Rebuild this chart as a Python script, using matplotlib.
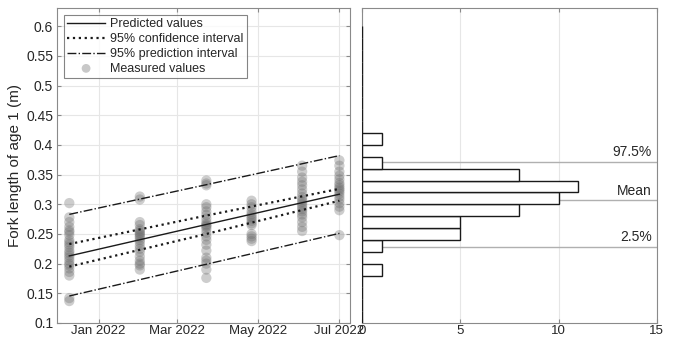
import matplotlib
matplotlib.use("Agg")
import matplotlib.pyplot as plt
import datetime as dt

plt.rcParams['font.family'] = ['Liberation Sans', 'DejaVu Sans']

# ---- data ----
sample_dates = ['2021-12-10', '2022-02-01', '2022-03-23', '2022-04-26', '2022-06-03', '2022-07-01']
measured = [
    [0.302, 0.278, 0.27, 0.262, 0.256, 0.253, 0.248, 0.24, 0.236, 0.232, 0.228, 0.222,
     0.218, 0.214, 0.21, 0.205, 0.2, 0.197, 0.192, 0.186, 0.18, 0.142, 0.137],
    [0.313, 0.308, 0.27, 0.265, 0.258, 0.255, 0.252, 0.25, 0.247, 0.244, 0.24, 0.236,
     0.23, 0.225, 0.22, 0.212, 0.205, 0.2, 0.197, 0.19],
    [0.34, 0.335, 0.332, 0.3, 0.295, 0.288, 0.282, 0.276, 0.27, 0.266, 0.264, 0.262,
     0.258, 0.252, 0.246, 0.24, 0.232, 0.222, 0.21, 0.205, 0.2, 0.19, 0.176],
    [0.306, 0.3, 0.295, 0.288, 0.283, 0.279, 0.276, 0.272, 0.268, 0.265, 0.25, 0.246,
     0.242, 0.238],
    [0.365, 0.355, 0.345, 0.338, 0.332, 0.325, 0.318, 0.312, 0.308, 0.304, 0.3, 0.296,
     0.292, 0.288, 0.283, 0.278, 0.27, 0.262, 0.255],
    [0.374, 0.365, 0.355, 0.348, 0.342, 0.336, 0.332, 0.328, 0.325, 0.322, 0.318, 0.313,
     0.308, 0.302, 0.296, 0.29, 0.248],
]

fit_dates = ['2021-12-10', '2022-03-23', '2022-07-01']
predicted = [0.213, 0.266, 0.317]
conf_upper = [0.233, 0.281, 0.326]
conf_lower = [0.195, 0.250, 0.306]
pred_upper = [0.283, 0.333, 0.382]
pred_lower = [0.1455, 0.199, 0.251]

hist_edges = [round(0.10 + 0.02 * i, 2) for i in range(26)]
hist_counts = [0, 0, 0, 0, 1, 0, 1, 5, 5, 8, 10, 11, 8, 1, 0, 1,
               0, 0, 0, 0, 0, 0, 0, 0, 0]
quantile_names = ['97.5%', 'Mean', '2.5%']
quantile_values = [0.3716, 0.307, 0.2285]

xtick_dates = ['2022-01-01', '2022-03-01', '2022-05-01', '2022-07-01']
xtick_labels = ['Jan 2022', 'Mar 2022', 'May 2022', 'Jul 2022']
hist_xticks = [0, 5, 10, 15]

# ---- figure ----
fig = plt.figure(figsize=(6.76, 3.39), dpi=100)
ax1 = fig.add_axes([0.0848, 0.0472, 0.433, 0.928])
ax2 = fig.add_axes([0.536, 0.0472, 0.4355, 0.928])

spine_col = '#8a8a8a'
grid_col = '#e6e6e6'
txt_col = '#262626'

to_d = lambda s: dt.datetime.strptime(s, '%Y-%m-%d')

# scatter
for i, (d, vals) in enumerate(zip(sample_dates, measured)):
    ax1.scatter([to_d(d)] * len(vals), vals, s=55, color='#6a6a6a', alpha=0.33,
                edgecolors='none', zorder=2)

fd = [to_d(d) for d in fit_dates]
l1, = ax1.plot(fd, predicted, '-', color='#1a1a1a', lw=1.0, zorder=3)
l2, = ax1.plot(fd, conf_upper, ':', color='#1a1a1a', lw=1.6, zorder=3)
ax1.plot(fd, conf_lower, ':', color='#1a1a1a', lw=1.6, zorder=3)
l3, = ax1.plot(fd, pred_upper, '-.', color='#1a1a1a', lw=1.0, zorder=3)
ax1.plot(fd, pred_lower, '-.', color='#1a1a1a', lw=1.0, zorder=3)
sc_proxy = ax1.scatter([], [], s=40, color='#c8c8c8', edgecolors='none')

ax1.set_xlim(to_d('2021-12-01'), to_d('2022-07-09'))
ax1.set_ylim(0.1, 0.63)
ax1.set_yticks([0.1, 0.15, 0.2, 0.25, 0.3, 0.35, 0.4, 0.45, 0.5, 0.55, 0.6])
ax1.set_yticklabels(['0.1', '0.15', '0.2', '0.25', '0.3', '0.35', '0.4', '0.45', '0.5', '0.55', '0.6'])
ax1.set_xticks([to_d(d) for d in xtick_dates])
ax1.set_xticklabels(xtick_labels)
ax1.set_ylabel('Fork length of age 1 (m)', fontsize=11, color=txt_col, labelpad=3)
ax1.grid(True, color=grid_col, lw=0.8)
ax1.set_axisbelow(True)

leg = ax1.legend([l1, l2, l3, sc_proxy],
                 ['Predicted values', '95% confidence interval', '95% prediction interval', 'Measured values'],
                 loc='upper left', frameon=True, fancybox=False,
                 edgecolor='#666666', handlelength=3.0, handletextpad=0.4,
                 borderpad=0.3, labelspacing=0.22, borderaxespad=0.5,
                 prop={'family': ['Liberation Sans'], 'size': 9})
leg.get_frame().set_linewidth(0.8)
for t in leg.get_texts():
    t.set_color(txt_col)

# histogram
centers = [(hist_edges[i] + hist_edges[i + 1]) / 2 for i in range(len(hist_counts))]
ax2.barh(centers, hist_counts, height=0.02, color='white', edgecolor='#1a1a1a',
         lw=1.0, zorder=3)
for name, v in zip(quantile_names, quantile_values):
    ax2.axhline(v, color='#b0b0b0', lw=1.0, zorder=2)
    ax2.text(14.75, v + 0.004, name, ha='right', va='bottom', fontsize=10, color=txt_col)

ax2.set_xlim(0, 15)
ax2.set_ylim(0.1, 0.63)
ax2.set_xticks(hist_xticks)
ax2.set_xticklabels([str(t) for t in hist_xticks])
ax2.set_yticks([])
ax2.grid(True, axis='x', color=grid_col, lw=0.8)
ax2.set_axisbelow(True)

for ax in (ax1, ax2):
    for sp in ax.spines.values():
        sp.set_color(spine_col)
        sp.set_linewidth(0.8)
    ax.tick_params(direction='in', length=3, color=spine_col, labelsize=10,
                   labelcolor=txt_col, pad=3, top=True, right=True)
    ax.tick_params(axis='x', pad=1.5, labelsize=9.5)

fig.savefig('out.png', dpi=100)
